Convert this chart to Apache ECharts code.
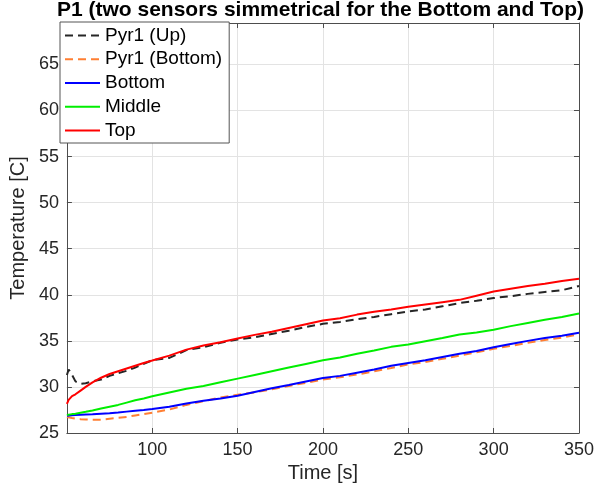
<!DOCTYPE html>
<html>
<head>
<meta charset="utf-8">
<script src="https://cdn.jsdelivr.net/npm/echarts@6/dist/echarts.min.js"></script>
<style>
  html, body { margin: 0; padding: 0; background: #fff; }
  #chart { width: 597px; height: 494px; }
</style>
</head>
<body>
<div id="chart"></div>
<script>
// Time stamps [s]
const time = [50, 51, 53, 55, 58, 61, 65, 70, 75, 80, 85, 90, 95, 100, 110, 120, 130, 140, 150, 160,
  170, 180, 190, 200, 210, 220, 230, 240, 250, 260, 270, 280, 290, 300, 310, 320, 330, 340, 350];

// Pyrometer readings [C]
const pyrUp = [31.3, 31.9, 31.3, 30.6, 30.35, 30.4, 30.6, 30.8, 31.2, 31.5, 31.75, 32.1, 32.5, 32.9,
  33.15, 34.0, 34.3, 34.8, 35.15, 35.4, 35.75, 36.1, 36.5, 36.85, 37.05, 37.35, 37.6, 37.9, 38.2,
  38.4, 38.75, 39.1, 39.35, 39.65, 39.85, 40.1, 40.3, 40.5, 40.95];
const pyrBottom = [26.74, 26.7, 26.62, 26.55, 26.5, 26.47, 26.45, 26.45, 26.55, 26.65, 26.75, 26.9,
  27.05, 27.2, 27.55, 28.05, 28.45, 28.85, 29.15, 29.4, 29.75, 30.1, 30.45, 30.8, 31.05, 31.35, 31.7,
  32.05, 32.45, 32.7, 33.05, 33.4, 33.75, 34.15, 34.45, 34.8, 35.1, 35.35, 35.7];

// Thermocouple readings [C]
const tcBottom = [26.88, 26.9, 26.92, 26.95, 26.97, 27.0, 27.03, 27.1, 27.15, 27.22, 27.32, 27.42, 27.5,
  27.6, 27.85, 28.2, 28.5, 28.75, 29.05, 29.45, 29.85, 30.2, 30.6, 30.98, 31.2, 31.55, 31.9, 32.3,
  32.6, 32.9, 33.25, 33.6, 33.9, 34.3, 34.65, 35.0, 35.3, 35.55, 35.87];
const tcMiddle = [26.95, 27.0, 27.05, 27.1, 27.2, 27.3, 27.45, 27.65, 27.85, 28.05, 28.3, 28.55, 28.75,
  28.98, 29.4, 29.8, 30.1, 30.5, 30.9, 31.3, 31.7, 32.1, 32.5, 32.9, 33.2, 33.6, 33.95, 34.35, 34.6,
  34.95, 35.3, 35.7, 35.9, 36.2, 36.6, 36.95, 37.3, 37.6, 37.97];
const tcTop = [28.15, 28.6, 29.0, 29.2, 29.6, 30.0, 30.5, 31.0, 31.4, 31.7, 32.0, 32.3, 32.6, 32.86,
  33.4, 34.05, 34.5, 34.85, 35.25, 35.65, 36.0, 36.4, 36.8, 37.2, 37.45, 37.85, 38.15, 38.4, 38.7,
  38.95, 39.2, 39.45, 39.9, 40.35, 40.65, 40.95, 41.2, 41.5, 41.74];

const seriesNames = ['Pyr1 (Up)', 'Pyr1 (Bottom)', 'Bottom', 'Middle', 'Top'];

const FONT = '"Liberation Sans", Arial, Helvetica, sans-serif';
const AXIS_COLOR = '#4d4d4d';
const TEXT_COLOR = '#262626';
const GRID = { left: 61, right: 17, top: 23, bottom: 61 };

function pairs(values) {
  return time.map((t, i) => [t, values[i]]);
}

function lineSeries(name, values, color, dashed) {
  return {
    name: name,
    type: 'line',
    data: pairs(values),
    showSymbol: false,
    symbol: 'none',
    smooth: false,
    animation: false,
    lineStyle: { color: color, width: 2, type: dashed ? [8, 5] : 'solid' },
    itemStyle: { color: color }
  };
}

const chart = echarts.init(document.getElementById('chart'), null, { renderer: 'canvas' });

const baseX = {
  type: 'value', min: 50, max: 350, interval: 50,
  axisLine: { show: true, onZero: false, lineStyle: { color: AXIS_COLOR, width: 1 } },
  axisTick: { show: true, inside: true, length: 5, lineStyle: { color: AXIS_COLOR } },
  splitLine: { show: false }
};
const baseY = {
  type: 'value', min: 25, max: 69.5, interval: 5,
  axisLine: { show: true, onZero: false, lineStyle: { color: AXIS_COLOR, width: 1 } },
  axisTick: { show: true, inside: true, length: 5, lineStyle: { color: AXIS_COLOR } },
  splitLine: { show: false }
};

chart.setOption({
  backgroundColor: '#ffffff',
  animation: false,
  title: {
    text: 'P1 (two sensors simmetrical for the Bottom and Top)',
    left: GRID.left + (597 - GRID.left - GRID.right) / 2,
    textAlign: 'center',
    top: 0,
    padding: 0,
    textStyle: { fontFamily: FONT, fontWeight: 'bold', fontSize: 21, color: '#000', lineHeight: 20 }
  },
  grid: GRID,
  legend: {
    data: seriesNames,
    orient: 'vertical',
    left: 60,
    top: 22,
    padding: [4, 7, 3, 4],
    itemWidth: 35,
    itemHeight: 18,
    itemGap: 4.75,
    backgroundColor: '#ffffff',
    borderColor: '#555555',
    borderWidth: 1,
    borderRadius: 0,
    selectedMode: false,
    itemStyle: { opacity: 0 },
    textStyle: { fontFamily: FONT, fontSize: 19, color: '#000', lineHeight: 18 }
  },
  xAxis: [
    Object.assign({}, baseX, {
      position: 'bottom',
      name: 'Time [s]',
      nameLocation: 'middle',
      nameGap: 29,
      nameTextStyle: { fontFamily: FONT, fontSize: 20, color: TEXT_COLOR },
      axisLabel: { show: true, showMinLabel: false, margin: 8, fontFamily: FONT, fontSize: 18, color: TEXT_COLOR },
      splitLine: { show: true, lineStyle: { color: '#e3e3e3', width: 1 } }
    }),
    Object.assign({}, baseX, { position: 'top', axisLabel: { show: false } })
  ],
  yAxis: [
    Object.assign({}, baseY, {
      position: 'left',
      name: 'Temperature [C]',
      nameLocation: 'middle',
      nameGap: 35,
      nameTextStyle: { fontFamily: FONT, fontSize: 20, color: TEXT_COLOR },
      axisLabel: { show: true, showMaxLabel: false, margin: 8, fontFamily: FONT, fontSize: 18, color: TEXT_COLOR },
      splitLine: { show: true, lineStyle: { color: '#e3e3e3', width: 1 } }
    }),
    Object.assign({}, baseY, { position: 'right', axisLabel: { show: false } })
  ],
  series: [
    lineSeries('Pyr1 (Up)', pyrUp, '#262626', true),
    lineSeries('Pyr1 (Bottom)', pyrBottom, '#ff7f33', true),
    lineSeries('Bottom', tcBottom, '#0000ff', false),
    lineSeries('Middle', tcMiddle, '#00ee00', false),
    lineSeries('Top', tcTop, '#ff0000', false)
  ]
});
</script>
</body>
</html>
